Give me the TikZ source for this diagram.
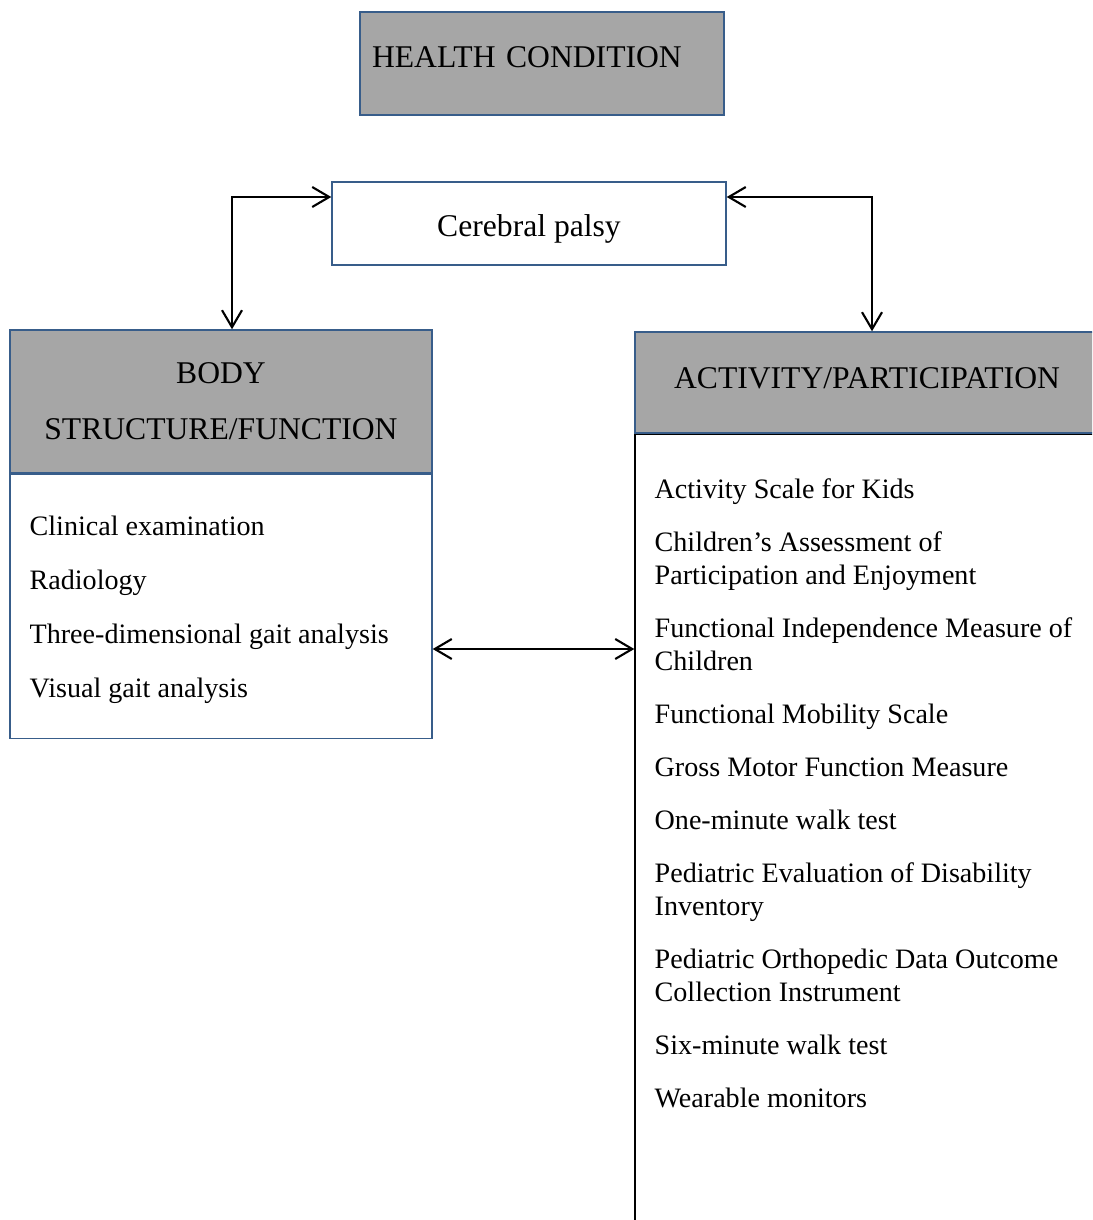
\documentclass[tikz,border=0pt]{standalone}
\usepackage{fontspec}
\setmainfont{Liberation Serif}
\usepackage{xcolor}
\usepackage{tikz}
\usetikzlibrary{arrows.meta,positioning,calc}
\definecolor{boxblue}{RGB}{56,93,138}
\definecolor{headgray}{RGB}{166,166,166}

\begin{document}
\begin{tikzpicture}[x=0.02cm, y=-0.02cm,
    head/.style={rectangle, draw=boxblue, fill=headgray, line width=0.85pt, inner sep=2pt, align=center, font=\fontsize{18}{32}\selectfont},
    plain/.style={rectangle, draw=boxblue, fill=white, line width=0.85pt, inner sep=2pt, font=\fontsize{18}{22}\selectfont},
    items/.style={inner sep=0pt, align=left, font=\fontsize{16}{18.8}\selectfont},
    biarrow/.style={{Straight Barb[length=0.34cm, width=0.4cm]}-{Straight Barb[length=0.34cm, width=0.4cm]}, line width=1.2pt}]
  \useasboundingbox (0,0) rectangle (1092,1220);
  \clip (0,0) rectangle (1092,1220);
  % top boxes
  \node[head, align=left, text width=6.8cm, inner xsep=0.24cm, minimum height=2.06cm, text height=0.44cm, text depth=0.26cm] (health) at (542,63.5) {HEALTH CONDITION};
  \node[plain, minimum width=7.88cm, minimum height=1.66cm, text height=0.68cm, text depth=0.14cm] (cp) at (529,223.5) {Cerebral palsy};
  % body structure/function
  \node[head, minimum width=8.44cm, minimum height=2.86cm] (bodyhead) at (221,401.5) {BODY\\STRUCTURE/FUNCTION};
  \node[plain, minimum width=8.44cm, minimum height=5.28cm, below=0pt of bodyhead] (bodybox) {};
  \node[items, below right=0.83cm and 0.4cm of bodybox.north west] (bodyitems) {Clinical examination\\[0.42cm]
    Radiology\\[0.42cm]
    Three-dimensional gait analysis\\[0.42cm]
    Visual gait analysis};
  % activity/participation
  \node[head, minimum width=9.28cm, minimum height=2.02cm, text height=0.44cm, text depth=0.22cm] (acthead) at (867,382.5) {ACTIVITY/PARTICIPATION};
  \node[plain, draw=black, minimum width=9.28cm, minimum height=16.6cm, below=0pt of acthead] (actbox) {};
  \node[items, below right=0.89cm and 0.4cm of actbox.north west] (actitems) {Activity Scale for Kids\\[0.4cm]
    Children's Assessment of\\Participation and Enjoyment\\[0.4cm]
    Functional Independence Measure of\\Children\\[0.4cm]
    Functional Mobility Scale\\[0.4cm]
    Gross Motor Function Measure\\[0.4cm]
    One-minute walk test\\[0.4cm]
    Pediatric Evaluation of Disability\\Inventory\\[0.4cm]
    Pediatric Orthopedic Data Outcome\\Collection Instrument\\[0.4cm]
    Six-minute walk test\\[0.4cm]
    Wearable monitors};
  % links
  \coordinate (lcorner) at (232,197);
  \coordinate (rcorner) at (872,197);
  \coordinate (midlink) at (533,649);
  \draw[biarrow] (bodyhead.north -| lcorner) -- (lcorner) -- (lcorner -| cp.west);
  \draw[biarrow] (rcorner -| cp.east) -- (rcorner) -- (rcorner |- acthead.north);
  \draw[biarrow] (midlink -| bodybox.east) -- (midlink -| actbox.west);
\end{tikzpicture}
\end{document}
